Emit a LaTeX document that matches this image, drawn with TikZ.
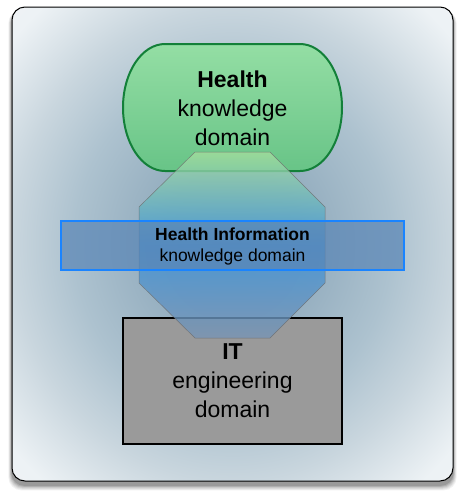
\documentclass[tikz,border=0pt]{standalone}
\usepackage{fontspec}
\setmainfont{Liberation Sans}
\definecolor{grtop}{HTML}{94DEA4}
\definecolor{grbot}{HTML}{68C487}
\definecolor{grline}{HTML}{138039}
\definecolor{octtop}{HTML}{A4DE9C}
\definecolor{octmid}{HTML}{3A92DA}
\definecolor{octbot}{HTML}{7894B4}
\definecolor{bluefill}{HTML}{5A86B6}
\definecolor{blueline}{HTML}{1A84FF}
\definecolor{itgray}{HTML}{9A9A9A}
\definecolor{pga}{HTML}{8AA6B8}
\definecolor{pgb}{HTML}{91ABBD}
\definecolor{pgc}{HTML}{ADC2CF}
\definecolor{pgd}{HTML}{C9D6DE}
\definecolor{pge}{HTML}{EDF2F5}
\definecolor{pgf}{HTML}{F5F7F9}
\pgfdeclareradialshading{panelglow}{\pgfpoint{0bp}{0bp}}{%
  color(0bp)=(pga);
  color(8bp)=(pgb);
  color(18bp)=(pgc);
  color(25bp)=(pgd);
  color(33bp)=(pge);
  color(50bp)=(pgf)}
\tikzset{
  bigtext/.style={font=\fontsize{23}{29}\selectfont, align=center, text=black},
  midtext/.style={font=\fontsize{17.5}{21}\selectfont, align=center, text=black},
}
\begin{document}
\begin{tikzpicture}[x=1pt,y=-1pt]
\useasboundingbox (0,0) rectangle (464,496);
% shadow
\foreach \i/\o in {6/0.05,5/0.06,4/0.07,3/0.08,2/0.1,1/0.12}{
  \fill[black,opacity=\o,rounded corners=13] (12-\i*0.6,9+\i*0.2) rectangle (453+\i*0.6,485+\i*0.9);
}
% background panel
\shade[shading=panelglow, rounded corners=13] (12,7) rectangle (453,481);
\draw[black,line width=1pt,rounded corners=13] (12,7) rectangle (453,481);
% Health knowledge domain (stadium)
\shade[top color=grtop, bottom color=grbot, draw=grline, line width=2pt]
  (165,44) -- (300,44) arc[start angle=-90,end angle=90,x radius=42,y radius=63.5]
  -- (165,171) arc[start angle=90,end angle=270,x radius=42,y radius=63.5] -- cycle;
% IT engineering domain
\draw[fill=itgray, draw=black, line width=1.2pt] (123,318) rectangle (342,444);
% octagon
\shade[top color=octtop, bottom color=octbot, middle color=octmid, opacity=0.8]
  (195,152) -- (270,152) -- (325,207) -- (325,283) -- (270,338) -- (195,338) -- (139,283) -- (139,207) -- cycle;
\draw[gray!85!black, line width=0.5pt, opacity=0.8]
  (195,152) -- (270,152) -- (325,207) -- (325,283) -- (270,338) -- (195,338) -- (139,283) -- (139,207) -- cycle;
% Health Information band
\fill[bluefill, opacity=0.72] (61,221) rectangle (404,270);
\draw[blueline, line width=2.6pt] (61,221) rectangle (404,270);
% texts
\node[bigtext] (health) at (232.5,108.5) {\textbf{Health}\\knowledge\\domain};
\node[midtext] (hi) at (232.5,246) {\textbf{Health Information}\\knowledge domain};
\node[bigtext] (it) at (232.5,380.5) {\textbf{IT}\\engineering\\domain};
\end{tikzpicture}
\end{document}
